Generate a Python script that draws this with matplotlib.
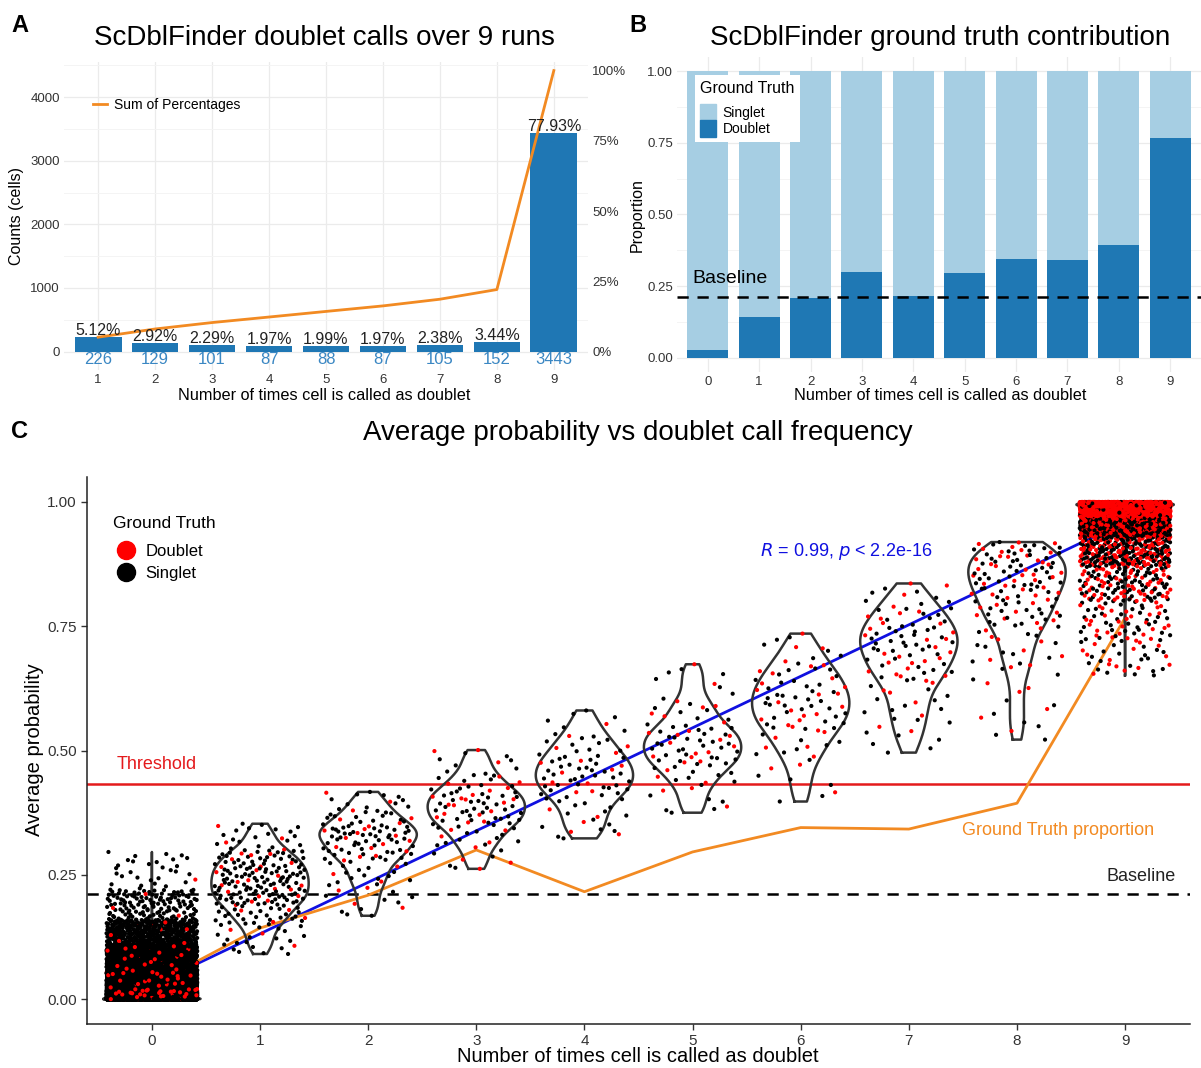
import numpy as np
import matplotlib
matplotlib.use("Agg")
import matplotlib.pyplot as plt
from matplotlib.lines import Line2D
from matplotlib.patches import Patch

plt.rcParams['font.family'] = ['Liberation Sans', 'DejaVu Sans']

# ---------------- data ----------------
# Panel A
calls_a = [1, 2, 3, 4, 5, 6, 7, 8, 9]
counts_a = [226, 129, 101, 87, 88, 87, 105, 152, 3443]
pct_labels_a = ["5.12%", "2.92%", "2.29%", "1.97%", "1.99%", "1.97%", "2.38%", "3.44%", "77.93%"]

# Panel B
calls_b = [0, 1, 2, 3, 4, 5, 6, 7, 8, 9]
doublet_prop = [0.028, 0.143, 0.209, 0.300, 0.216, 0.296, 0.345, 0.342, 0.394, 0.767]
baseline = 0.212
threshold = 0.432

# Panel C: cells per group and read-off quantiles of average probability
group_n = [10800, 226, 129, 101, 87, 88, 87, 105, 152, 3443]
q_levels = [
    [0, 0.45, 0.68, 0.85, 0.95, 0.985, 0.997, 1.0],
    [0, 0.1, 0.25, 0.5, 0.75, 0.9, 1.0],
    [0, 0.1, 0.25, 0.5, 0.75, 0.9, 1.0],
    [0, 0.1, 0.25, 0.5, 0.75, 0.9, 1.0],
    [0, 0.1, 0.25, 0.5, 0.75, 0.9, 1.0],
    [0, 0.1, 0.25, 0.5, 0.75, 0.9, 1.0],
    [0, 0.1, 0.25, 0.5, 0.75, 0.9, 1.0],
    [0, 0.1, 0.25, 0.5, 0.75, 0.9, 1.0],
    [0, 0.1, 0.25, 0.5, 0.75, 0.9, 1.0],
    [0, 0.01, 0.03, 0.07, 0.15, 0.3, 0.5, 1.0],
]
q_values = [
    [0.0, 0.0005, 0.02, 0.06, 0.11, 0.16, 0.22, 0.30],
    [0.09, 0.15, 0.19, 0.23, 0.27, 0.30, 0.355],
    [0.165, 0.23, 0.28, 0.32, 0.35, 0.38, 0.42],
    [0.26, 0.31, 0.35, 0.385, 0.42, 0.455, 0.505],
    [0.32, 0.36, 0.41, 0.45, 0.49, 0.53, 0.585],
    [0.37, 0.43, 0.47, 0.51, 0.55, 0.60, 0.68],
    [0.39, 0.48, 0.54, 0.59, 0.64, 0.68, 0.74],
    [0.49, 0.56, 0.64, 0.70, 0.75, 0.79, 0.84],
    [0.52, 0.66, 0.75, 0.82, 0.87, 0.90, 0.92],
    [0.65, 0.72, 0.80, 0.87, 0.93, 0.97, 0.99, 1.0],
]
# share of doublets among the lowest 30 % of cells in each group
tail_level = 0.3
doublet_tail_share = [0.028, 0.143, 0.209, 0.300, 0.216, 0.296, 0.345, 0.342, 0.394, 0.45]

ORANGE = '#F28A22'
BLUE_BAR = '#1F77B4'
DARK = '#1F78B4'
LIGHT = '#A6CEE3'
GRID = '#EBEBEB'
TICKC = '#333333'

fig = plt.figure(figsize=(12.01, 10.68), dpi=100)
W, H = 1201.0, 1068.0


def fx(px):
    return px / W


def fy(py):
    return 1 - py / H


# ---------------- Panel A ----------------
axA = fig.add_axes([fx(64), fy(370), fx(588) - fx(64), fy(62) - fy(370)])
total = float(sum(counts_a))
axA.bar(calls_a, counts_a, width=0.82, color=BLUE_BAR, zorder=2)
cum = np.cumsum(counts_a)
axA.plot(calls_a, cum, color=ORANGE, lw=2, zorder=3, label='Sum of Percentages')
for x, c, lab in zip(calls_a, counts_a, pct_labels_a):
    axA.text(x, c - 15, lab, ha='center', va='bottom', fontsize=11.5, color='#222222', zorder=4)
    axA.text(x, -130, str(c), ha='center', va='center', fontsize=12, color='#3A87C3', zorder=4)
axA.set_xlim(0.4, 9.6)
axA.set_ylim(-290, 4553)
axA.set_xticks(calls_a)
axA.set_yticks([0, 1000, 2000, 3000, 4000])
axA.set_yticks([500, 1500, 2500, 3500, 4500], minor=True)
axA.grid(True, which='major', color=GRID, lw=0.9, zorder=0)
axA.grid(True, which='minor', axis='y', color='#F4F4F4', lw=0.7, zorder=0)
axA.set_axisbelow(True)
for s in axA.spines.values():
    s.set_visible(False)
axA.tick_params(axis='both', which='both', length=0, labelsize=9.5, colors=TICKC, pad=3)
secA = axA.secondary_yaxis('right', functions=(lambda c: c / total * 100, lambda p: p * total / 100))
secA.set_yticks([0, 25, 50, 75, 100])
secA.set_yticklabels(['0%', '25%', '50%', '75%', '100%'])
secA.tick_params(length=0, labelsize=9.5, colors=TICKC, pad=3)
secA.spines['right'].set_visible(False)
axA.legend(loc='center left', bbox_to_anchor=(0.055, 0.86), frameon=False, handlelength=1.0,
           handletextpad=0.5, borderaxespad=0, borderpad=0, fontsize=10)
fig.text(fx(324), fy(38), 'ScDblFinder doublet calls over 9 runs', ha='center', va='center', fontsize=20)
fig.text(fx(324), fy(396), 'Number of times cell is called as doublet', ha='center', va='center', fontsize=11.7)
fig.text(fx(17), fy(216), 'Counts (cells)', ha='center', va='center', rotation=90, fontsize=11.5)
fig.text(fx(20), fy(25), 'A', ha='center', va='center', fontsize=17, fontweight='bold')

# ---------------- Panel B ----------------
axB = fig.add_axes([fx(677), fy(372), fx(1201) - fx(677), fy(57) - fy(372)])
single_prop = [1 - p for p in doublet_prop]
axB.bar(calls_b, doublet_prop, width=0.8, color=DARK, zorder=2, label='Doublet')
axB.bar(calls_b, single_prop, bottom=doublet_prop, width=0.8, color=LIGHT, zorder=2, label='Singlet')
axB.axhline(baseline, color='black', lw=1.8, linestyle=(0, (4.5, 3.5)), zorder=3)
axB.text(-0.3, baseline + 0.035, 'Baseline', ha='left', va='bottom', fontsize=14, zorder=4)
axB.set_xlim(-0.6, 9.6)
axB.set_ylim(-0.05, 1.05)
axB.set_xticks(calls_b)
axB.set_yticks([0, 0.25, 0.5, 0.75, 1.0])
axB.set_yticklabels(['0.00', '0.25', '0.50', '0.75', '1.00'])
axB.set_yticks([0.125, 0.375, 0.625, 0.875], minor=True)
axB.grid(True, which='major', color=GRID, lw=0.9, zorder=0)
axB.grid(True, which='minor', axis='y', color='#F4F4F4', lw=0.7, zorder=0)
axB.set_axisbelow(True)
for s in axB.spines.values():
    s.set_visible(False)
axB.tick_params(axis='both', which='both', length=0, labelsize=9.5, colors=TICKC, pad=3)
legB = axB.legend(handles=[Patch(color=LIGHT, label='Singlet'), Patch(color=DARK, label='Doublet')],
                  title='Ground Truth', loc='upper left', bbox_to_anchor=(0.034, 0.943), frameon=True,
                  facecolor='white', edgecolor='none', framealpha=1, fancybox=False, fontsize=10,
                  title_fontsize=11.5, handlelength=1.1, handleheight=1.45, labelspacing=0.0,
                  handletextpad=0.5, borderpad=0.4, borderaxespad=0, alignment='left')
legB._legend_box.sep = 6
fig.text(fx(940), fy(38), 'ScDblFinder ground truth contribution', ha='center', va='center', fontsize=20)
fig.text(fx(940), fy(396), 'Number of times cell is called as doublet', ha='center', va='center', fontsize=11.7)
fig.text(fx(637), fy(215), 'Proportion', ha='center', va='center', rotation=90, fontsize=11.5)
fig.text(fx(638), fy(25), 'B', ha='center', va='center', fontsize=17, fontweight='bold')

# ---------------- Panel C ----------------
axC = fig.add_axes([fx(87), fy(1024), fx(1190) - fx(87), fy(477) - fy(1024)])


def radical_inverse(idx, base):
    idx = np.asarray(idx, dtype=np.int64).copy()
    out = np.zeros(idx.shape, dtype=float)
    f = 1.0 / base
    while np.any(idx > 0):
        out += f * (idx % base)
        idx //= base
        f /= base
    return out


jit = 0.42
xs_all, xg_all, ys_all, cols_all = [], [], [], []
group_y = []
for k in range(10):
    n = group_n[k]
    i = np.arange(1, n + 1) + 17 * (k + 1)
    u = radical_inverse(i, 2)
    v = radical_inverse(i, 3)
    w = radical_inverse(i, 5)
    y = np.interp(v, q_levels[k], q_values[k])
    x = calls_b[k] + jit * (2 * u - 1)
    p_lo = doublet_tail_share[k]
    p_hi = (doublet_prop[k] - tail_level * p_lo) / (1 - tail_level)
    dbl = np.where(v < tail_level, w < p_lo, w < p_hi)
    if k == 0:
        # in the dense group part of the doublets end up drawn after the singlets
        late = dbl & (w < 0.4 * doublet_prop[k]) & (y > 0.004)
        order = np.argsort(late, kind='stable')
        x, y, dbl = x[order], y[order], dbl[order]
    xs_all.append(x)
    xg_all.append(np.full(n, calls_b[k], dtype=float))
    ys_all.append(y)
    cols_all.append(np.where(dbl, '#FF0000', '#000000'))
    group_y.append(y)
xs_all = np.concatenate(xs_all)
xg_all = np.concatenate(xg_all)
ys_all = np.concatenate(ys_all)
cols_all = np.concatenate(cols_all)

# reference lines
axC.axhline(threshold, color='#E41A1C', lw=1.8, zorder=1)
axC.axhline(baseline, color='black', lw=1.8, linestyle=(0, (4.5, 3.5)), zorder=1)
# linear fit of probability on call count
slope, icpt = np.polyfit(xg_all, ys_all, 1)
xf = np.array([calls_b[0], calls_b[-1]], dtype=float)
axC.plot(xf, icpt + slope * xf, color='#1010E0', lw=2, zorder=1.5)
# ground truth proportion line
axC.plot(calls_b, doublet_prop, color=ORANGE, lw=2, zorder=1.6)


# violins
def kde_outline(y):
    n = len(y)
    sd = np.std(y, ddof=1)
    iqr = np.subtract(*np.percentile(y, [75, 25]))
    h = min(sd, iqr / 1.34) if iqr > 0 else sd
    bw = 0.9 * h * n ** (-0.2)
    grid = np.linspace(y.min(), y.max(), 400)
    dens = np.zeros_like(grid)
    for chunk in np.array_split(y, max(1, n // 2000)):
        dens += np.exp(-0.5 * ((grid[:, None] - chunk[None, :]) / bw) ** 2).sum(axis=1)
    return grid, dens / dens.max()


for k in range(10):
    grid, d = kde_outline(group_y[k])
    hw = 0.45 * d
    xo = np.concatenate([calls_b[k] - hw, (calls_b[k] + hw)[::-1], [calls_b[k] - hw[0]]])
    yo = np.concatenate([grid, grid[::-1], [grid[0]]])
    axC.plot(xo, yo, color='#333333', lw=1.8, zorder=1.8, solid_joinstyle='round')

# points
axC.scatter(xs_all, ys_all, c=cols_all, s=9, linewidths=0, zorder=2)

axC.text(-0.33, threshold + 0.022, 'Threshold', color='#E41A1C', fontsize=13, ha='left', va='bottom', zorder=5)
axC.text(9.47, baseline + 0.018, 'Baseline', color='#222222', fontsize=13, ha='right', va='bottom', zorder=5)
axC.text(8.38, 0.34, 'Ground Truth proportion', color=ORANGE, fontsize=13, ha='center', va='center', zorder=5)
axC.text(6.42, 0.90, r'$R$ = 0.99, $p$ < 2.2e-16', color='#1010E0', fontsize=13, ha='center', va='center', zorder=5)

axC.set_xlim(-0.6, 9.6)
axC.set_ylim(-0.05, 1.05)
axC.set_xticks(calls_b)
axC.set_yticks([0, 0.25, 0.5, 0.75, 1.0])
axC.set_yticklabels(['0.00', '0.25', '0.50', '0.75', '1.00'])
for s in ['top', 'right']:
    axC.spines[s].set_visible(False)
for s in ['left', 'bottom']:
    axC.spines[s].set_linewidth(1.1)
    axC.spines[s].set_color('#222222')
axC.tick_params(axis='both', length=4, width=1, colors='#333333', labelsize=11, labelcolor='#333333')
legC = axC.legend(handles=[Line2D([], [], marker='o', color='#FF0000', linestyle='', markersize=13, label='Doublet'),
                           Line2D([], [], marker='o', color='#000000', linestyle='', markersize=13, label='Singlet')],
                  title='Ground Truth', loc='upper left', bbox_to_anchor=(0.012, 0.951), frameon=False,
                  fontsize=12, title_fontsize=12.5, alignment='left', labelspacing=0.45,
                  handletextpad=0.35, borderaxespad=0, borderpad=0.75, handlelength=1.6)
legC._legend_box.sep = 9
fig.text(fx(638), fy(433), 'Average probability vs doublet call frequency', ha='center', va='center', fontsize=20)
fig.text(fx(638), fy(1057), 'Number of times cell is called as doublet', ha='center', va='center', fontsize=14.5)
fig.text(fx(35), fy(750), 'Average probability', ha='center', va='center', rotation=90, fontsize=14.5)
fig.text(fx(20), fy(432), 'C', ha='center', va='center', fontsize=17, fontweight='bold')

fig.savefig('out.png', dpi=100)
